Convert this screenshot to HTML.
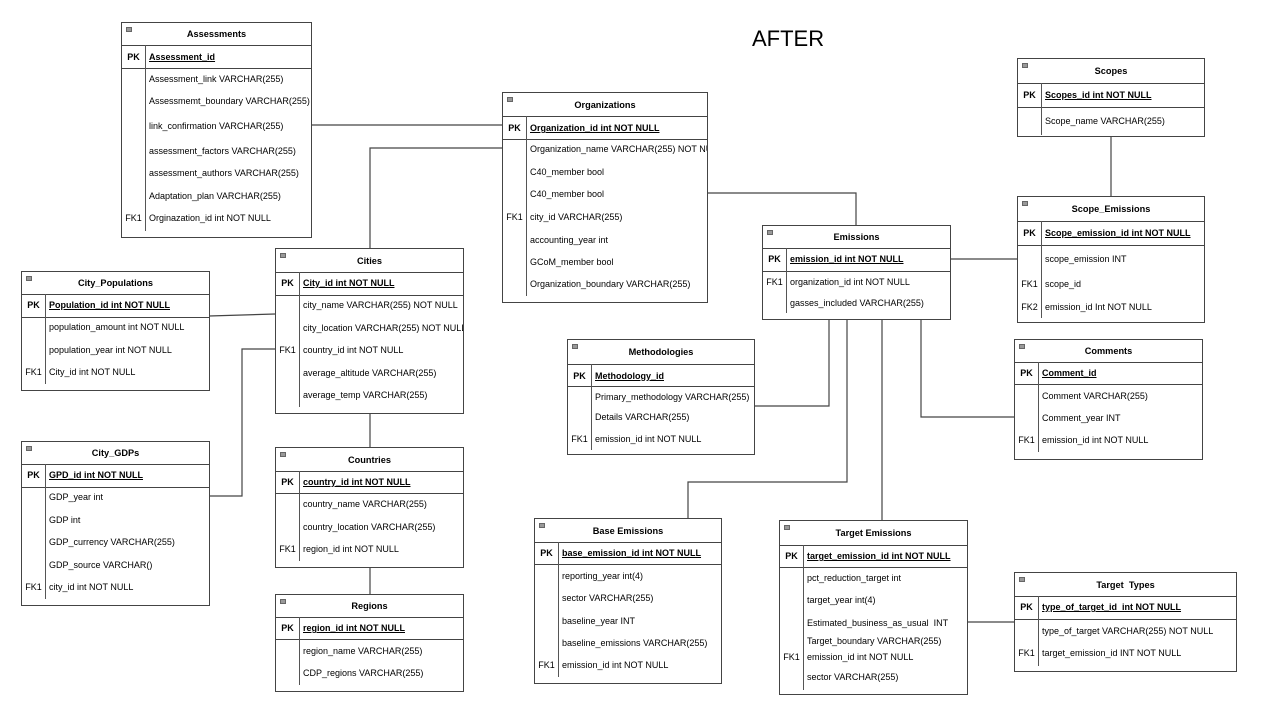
<!DOCTYPE html>
<html><head><meta charset="utf-8"><style>
body{margin:0;width:1262px;height:717px;background:#fff;position:relative;overflow:hidden;font-family:"Liberation Sans",Arial,sans-serif;color:#000}
.t{position:absolute;border:1px solid #444;box-sizing:border-box;background:#fff;overflow:hidden}
.ttl{position:absolute;left:0;right:0;top:0;display:flex;align-items:center;justify-content:center;font-weight:bold;font-size:9.2px}
.ic{position:absolute;left:4px;top:4px;width:6px;height:5px;background:#999;border:1px solid #666;box-sizing:border-box}
.hl{position:absolute;left:0;right:0;height:1px;background:#444}
.vl{position:absolute;left:23px;width:1px;background:#555}
.k,.f{position:absolute;font-size:9px;line-height:14px;white-space:nowrap;margin-top:0}
.k{left:0;width:23px;text-align:center}
.f{left:27px}
.b{font-weight:bold}.u{text-decoration:underline}
svg{position:absolute;left:0;top:0}
</style></head><body>
<svg width="1262" height="717"><g stroke="#444" stroke-width="1.2" fill="none">
<path d="M311 125H502"/>
<path d="M502 148H370V248"/>
<path d="M707 193H856V225"/>
<path d="M209 316L275 314"/>
<path d="M209 496H242V349H275"/>
<path d="M370 413V447"/>
<path d="M370 567V594"/>
<path d="M950 259H1017"/>
<path d="M1111 136V196"/>
<path d="M829 319V406H754"/>
<path d="M921 320V417H1014"/>
<path d="M847 319V482H688V518"/>
<path d="M882 319V520"/>
<path d="M967 622H1014"/>
</g></svg>
<div style="position:absolute;left:752px;top:26px;font-size:22px">AFTER</div>

<div class="t" style="left:121px;top:22px;width:191px;height:216px"><div class="ic"></div><div class="ttl" style="height:22px">Assessments</div><div class="hl" style="top:22px"></div><div class="hl" style="top:45px"></div><div class="vl" style="top:22px;height:186px"></div>
<span class="k b" style="top:27px">PK</span><span class="f b u" style="top:27px">Assessment_id</span>
<span class="f" style="top:49px">Assessment_link VARCHAR(255)</span><span class="f" style="top:71px">Assessmemt_boundary VARCHAR(255)</span><span class="f" style="top:96px">link_confirmation VARCHAR(255)</span><span class="f" style="top:121px">assessment_factors VARCHAR(255)</span><span class="f" style="top:143px">assessment_authors VARCHAR(255)</span><span class="f" style="top:166px">Adaptation_plan VARCHAR(255)</span><span class="k" style="top:188px">FK1</span><span class="f" style="top:188px">Orginazation_id int NOT NULL</span></div>

<div class="t" style="left:502px;top:92px;width:206px;height:211px"><div class="ic"></div><div class="ttl" style="height:23px">Organizations</div><div class="hl" style="top:23px"></div><div class="hl" style="top:46px"></div><div class="vl" style="top:23px;height:180px"></div>
<span class="k b" style="top:28px">PK</span><span class="f b u" style="top:28px">Organization_id int NOT NULL</span>
<span class="f" style="top:49px">Organization_name VARCHAR(255) NOT NULL</span><span class="f" style="top:72px">C40_member bool</span><span class="f" style="top:94px">C40_member bool</span><span class="k" style="top:117px">FK1</span><span class="f" style="top:117px">city_id VARCHAR(255)</span><span class="f" style="top:140px">accounting_year int</span><span class="f" style="top:162px">GCoM_member bool</span><span class="f" style="top:184px">Organization_boundary VARCHAR(255)</span></div>

<div class="t" style="left:275px;top:248px;width:189px;height:166px"><div class="ic"></div><div class="ttl" style="height:23px">Cities</div><div class="hl" style="top:23px"></div><div class="hl" style="top:46px"></div><div class="vl" style="top:23px;height:135px"></div>
<span class="k b" style="top:27px">PK</span><span class="f b u" style="top:27px">City_id int NOT NULL</span>
<span class="f" style="top:49px">city_name VARCHAR(255) NOT NULL</span><span class="f" style="top:72px">city_location VARCHAR(255) NOT NULL</span><span class="k" style="top:94px">FK1</span><span class="f" style="top:94px">country_id int NOT NULL</span><span class="f" style="top:117px">average_altitude VARCHAR(255)</span><span class="f" style="top:139px">average_temp VARCHAR(255)</span></div>

<div class="t" style="left:21px;top:271px;width:189px;height:120px"><div class="ic"></div><div class="ttl" style="height:22px">City_Populations</div><div class="hl" style="top:22px"></div><div class="hl" style="top:45px"></div><div class="vl" style="top:22px;height:90px"></div>
<span class="k b" style="top:26px">PK</span><span class="f b u" style="top:26px">Population_id int NOT NULL</span>
<span class="f" style="top:48px">population_amount int NOT NULL</span><span class="f" style="top:71px">population_year int NOT NULL</span><span class="k" style="top:93px">FK1</span><span class="f" style="top:93px">City_id int NOT NULL</span></div>

<div class="t" style="left:21px;top:441px;width:189px;height:165px"><div class="ic"></div><div class="ttl" style="height:22px">City_GDPs</div><div class="hl" style="top:22px"></div><div class="hl" style="top:45px"></div><div class="vl" style="top:22px;height:135px"></div>
<span class="k b" style="top:26px">PK</span><span class="f b u" style="top:26px">GPD_id int NOT NULL</span>
<span class="f" style="top:48px">GDP_year int</span><span class="f" style="top:71px">GDP int</span><span class="f" style="top:93px">GDP_currency VARCHAR(255)</span><span class="f" style="top:116px">GDP_source VARCHAR()</span><span class="k" style="top:138px">FK1</span><span class="f" style="top:138px">city_id int NOT NULL</span></div>

<div class="t" style="left:275px;top:447px;width:189px;height:121px"><div class="ic"></div><div class="ttl" style="height:23px">Countries</div><div class="hl" style="top:23px"></div><div class="hl" style="top:45px"></div><div class="vl" style="top:23px;height:90px"></div>
<span class="k b" style="top:27px">PK</span><span class="f b u" style="top:27px">country_id int NOT NULL</span>
<span class="f" style="top:49px">country_name VARCHAR(255)</span><span class="f" style="top:72px">country_location VARCHAR(255)</span><span class="k" style="top:94px">FK1</span><span class="f" style="top:94px">region_id int NOT NULL</span></div>

<div class="t" style="left:275px;top:594px;width:189px;height:98px"><div class="ic"></div><div class="ttl" style="height:22px">Regions</div><div class="hl" style="top:22px"></div><div class="hl" style="top:44px"></div><div class="vl" style="top:22px;height:68px"></div>
<span class="k b" style="top:26px">PK</span><span class="f b u" style="top:26px">region_id int NOT NULL</span>
<span class="f" style="top:49px">region_name VARCHAR(255)</span><span class="f" style="top:71px">CDP_regions VARCHAR(255)</span></div>

<div class="t" style="left:567px;top:339px;width:188px;height:116px"><div class="ic"></div><div class="ttl" style="height:24px">Methodologies</div><div class="hl" style="top:24px"></div><div class="hl" style="top:46px"></div><div class="vl" style="top:24px;height:86px"></div>
<span class="k b" style="top:29px">PK</span><span class="f b u" style="top:29px">Methodology_id</span>
<span class="f" style="top:50px">Primary_methodology VARCHAR(255)</span><span class="f" style="top:70px">Details VARCHAR(255)</span><span class="k" style="top:92px">FK1</span><span class="f" style="top:92px">emission_id int NOT NULL</span></div>

<div class="t" style="left:762px;top:225px;width:189px;height:95px"><div class="ic"></div><div class="ttl" style="height:22px">Emissions</div><div class="hl" style="top:22px"></div><div class="hl" style="top:45px"></div><div class="vl" style="top:22px;height:65px"></div>
<span class="k b" style="top:26px">PK</span><span class="f b u" style="top:26px">emission_id int NOT NULL</span>
<span class="k" style="top:49px">FK1</span><span class="f" style="top:49px">organization_id int NOT NULL</span><span class="f" style="top:70px">gasses_included VARCHAR(255)</span></div>

<div class="t" style="left:1017px;top:58px;width:188px;height:79px"><div class="ic"></div><div class="ttl" style="height:24px">Scopes</div><div class="hl" style="top:24px"></div><div class="hl" style="top:48px"></div><div class="vl" style="top:24px;height:52px"></div>
<span class="k b" style="top:29px">PK</span><span class="f b u" style="top:29px">Scopes_id int NOT NULL</span>
<span class="f" style="top:55px">Scope_name VARCHAR(255)</span></div>

<div class="t" style="left:1017px;top:196px;width:188px;height:127px"><div class="ic"></div><div class="ttl" style="height:24px">Scope_Emissions</div><div class="hl" style="top:24px"></div><div class="hl" style="top:48px"></div><div class="vl" style="top:24px;height:97px"></div>
<span class="k b" style="top:29px">PK</span><span class="f b u" style="top:29px">Scope_emission_id int NOT NULL</span>
<span class="f" style="top:55px">scope_emission INT</span><span class="k" style="top:80px">FK1</span><span class="f" style="top:80px">scope_id</span><span class="k" style="top:103px">FK2</span><span class="f" style="top:103px">emission_id Int NOT NULL</span></div>

<div class="t" style="left:1014px;top:339px;width:189px;height:121px"><div class="ic"></div><div class="ttl" style="height:22px">Comments</div><div class="hl" style="top:22px"></div><div class="hl" style="top:44px"></div><div class="vl" style="top:22px;height:90px"></div>
<span class="k b" style="top:26px">PK</span><span class="f b u" style="top:26px">Comment_id</span>
<span class="f" style="top:49px">Comment VARCHAR(255)</span><span class="f" style="top:71px">Comment_year INT</span><span class="k" style="top:93px">FK1</span><span class="f" style="top:93px">emission_id int NOT NULL</span></div>

<div class="t" style="left:534px;top:518px;width:188px;height:166px"><div class="ic"></div><div class="ttl" style="height:23px">Base Emissions</div><div class="hl" style="top:23px"></div><div class="hl" style="top:45px"></div><div class="vl" style="top:23px;height:135px"></div>
<span class="k b" style="top:27px">PK</span><span class="f b u" style="top:27px">base_emission_id int NOT NULL</span>
<span class="f" style="top:50px">reporting_year int(4)</span><span class="f" style="top:72px">sector VARCHAR(255)</span><span class="f" style="top:95px">baseline_year  INT</span><span class="f" style="top:117px">baseline_emissions VARCHAR(255)</span><span class="k" style="top:139px">FK1</span><span class="f" style="top:139px">emission_id int NOT NULL</span></div>

<div class="t" style="left:779px;top:520px;width:189px;height:175px"><div class="ic"></div><div class="ttl" style="height:24px">Target Emissions</div><div class="hl" style="top:24px"></div><div class="hl" style="top:46px"></div><div class="vl" style="top:24px;height:145px"></div>
<span class="k b" style="top:28px">PK</span><span class="f b u" style="top:28px">target_emission_id int NOT NULL</span>
<span class="f" style="top:50px">pct_reduction_target int</span><span class="f" style="top:72px">target_year int(4)</span><span class="f" style="top:95px">Estimated_business_as_usual&nbsp; INT</span><span class="f" style="top:113px">Target_boundary VARCHAR(255)</span><span class="k" style="top:129px">FK1</span><span class="f" style="top:129px">emission_id int NOT NULL</span><span class="f" style="top:149px">sector VARCHAR(255)</span></div>

<div class="t" style="left:1014px;top:572px;width:223px;height:100px"><div class="ic"></div><div class="ttl" style="height:23px">Target&nbsp; Types</div><div class="hl" style="top:23px"></div><div class="hl" style="top:46px"></div><div class="vl" style="top:23px;height:70px"></div>
<span class="k b" style="top:27px">PK</span><span class="f b u" style="top:27px">type_of_target_id&nbsp; int NOT NULL</span>
<span class="f" style="top:51px">type_of_target VARCHAR(255) NOT NULL</span><span class="k" style="top:73px">FK1</span><span class="f" style="top:73px">target_emission_id INT NOT NULL</span></div>
</body></html>
